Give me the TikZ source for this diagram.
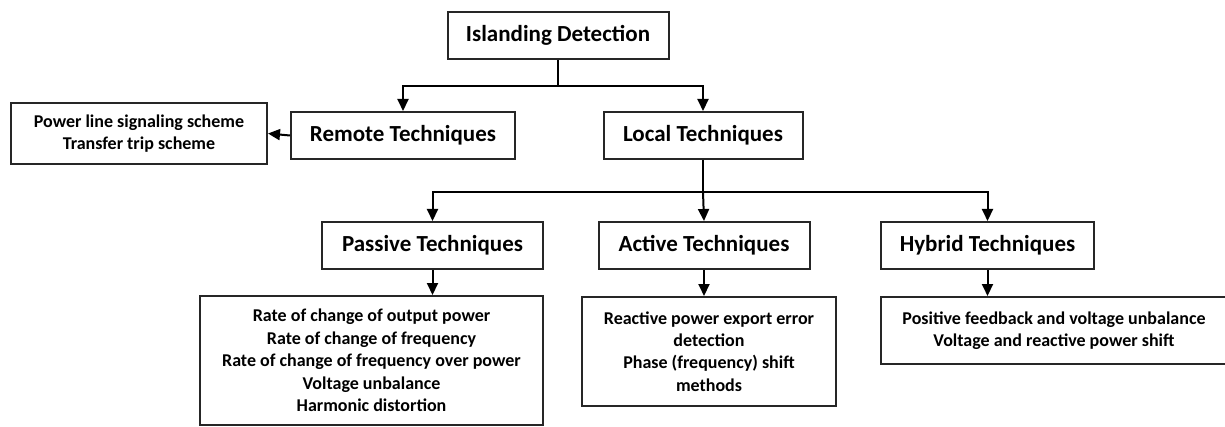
\documentclass[tikz,border=0pt]{standalone}
\usepackage{fontspec}
\setmainfont{Carlito}
\usetikzlibrary{arrows.meta}

\begin{document}
\begin{tikzpicture}[x=0.5pt, y=-0.5pt,
    box/.style={draw=black!85, line width=1pt, inner sep=0pt, align=center, font=\fontsize{11.5}{13}\selectfont\bfseries},
    listbox/.style={draw=black!85, line width=1pt, inner sep=0pt, align=center, font=\fontsize{9}{11.2}\selectfont\bfseries},
    arr/.style={line width=1pt, -{Triangle[length=6pt, width=5.5pt]}}]
    \clip (0,0) rectangle (1225,427);

    % top levels
    \node[box, minimum width=110.5pt, minimum height=23.5pt] (isl) at (558,35.5) {Islanding Detection};
    \node[box, minimum width=112pt, minimum height=23.5pt] (remote) at (403,135.5) {Remote Techniques};
    \node[box, minimum width=99.5pt, minimum height=23.5pt] (local) at (703,135.5) {Local Techniques};
    \node[listbox, minimum width=128pt, minimum height=30.5pt] (remlist) at (139,133.5) {Power line signaling scheme\\Transfer trip scheme};

    % local techniques
    \node[box, minimum width=110.5pt, minimum height=23.5pt] (passive) at (432.5,245.5) {Passive Techniques};
    \node[box, minimum width=105.5pt, minimum height=23.5pt] (active) at (704,245.5) {Active Techniques};
    \node[box, minimum width=106.5pt, minimum height=23.5pt] (hybrid) at (987.5,245.5) {Hybrid Techniques};

    \node[listbox, minimum width=171.5pt, minimum height=64.5pt] (paslist) at (371.5,360.5) {Rate of change of output power\\Rate of change of frequency\\Rate of change of frequency over power\\Voltage unbalance\\Harmonic distortion};
    \node[listbox, minimum width=127pt, minimum height=54.5pt] (actlist) at (709,351.5) {Reactive power export error\\detection\\Phase (frequency) shift\\methods};
    \node[listbox, minimum width=173pt, minimum height=33.5pt] (hyblist) at (1054,330.5) {Positive feedback and voltage unbalance\\Voltage and reactive power shift};

    \coordinate (split1) at (558,86);
    \coordinate (split2) at (703,192);

    \draw[line width=1pt] (isl.south) -- (split1);
    \draw[arr] (split1) -| (remote.north);
    \draw[arr] (split1) -| (local.north);
    \draw[arr] (remote.west) -- (remlist.east);

    \draw[line width=1pt] (local.south) -- (split2);
    \draw[arr] (split2) -| (passive.north);
    \draw[arr] (split2) -- (active.north);
    \draw[arr] (split2) -| (hybrid.north);

    \draw[arr] (passive.south) -- (passive.south |- paslist.north);
    \draw[arr] (active.south) -- (active.south |- actlist.north);
    \draw[arr] (hybrid.south) -- (hybrid.south |- hyblist.north);
\end{tikzpicture}
\end{document}
